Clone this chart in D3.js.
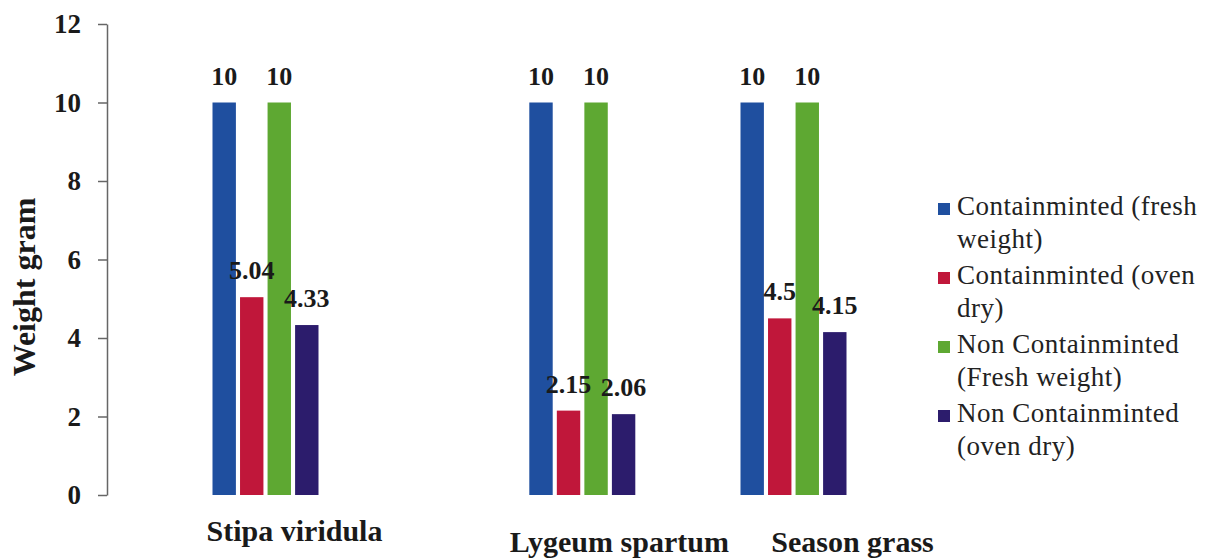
<!DOCTYPE html>
<html>
<head>
<meta charset="utf-8">
<script src="https://cdn.jsdelivr.net/npm/d3@7"></script>
<style>
  html, body { margin: 0; padding: 0; background: #ffffff; }
  svg { display: block; }
  svg text { font-family: "Liberation Serif", "Times New Roman", Times, serif; }
</style>
</head>
<body>
<svg id="chart" width="1214" height="560"></svg>
<script>
// ---- data ----
const categories = ["Stipa viridula", "Lygeum spartum", "Season grass"];
const seriesNames = [
  "Containminted (fresh weight)",
  "Containminted (oven dry)",
  "Non Containminted (Fresh weight)",
  "Non Containminted (oven dry)"
];
const legendLines = [
  ["Containminted (fresh", "weight)"],
  ["Containminted (oven", "dry)"],
  ["Non Containminted", "(Fresh weight)"],
  ["Non Containminted", "(oven dry)"]
];
const contFresh    = [10, 10, 10];
const contOven     = [5.04, 2.15, 4.5];
const nonContFresh = [10, 10, 10];
const nonContOven  = [4.33, 2.06, 4.15];
const yTicks = [0, 2, 4, 6, 8, 10, 12];
const yTitle = "Weight gram";

// ---- styles / layout ----
const colors = ["#1f4f9f", "#c0173a", "#5ea832", "#2c1c6c"];
const seriesValues = [contFresh, contOven, nonContFresh, nonContOven];
// slot layout of the category axis (empty slots give the uneven spacing)
const slots = ["Stipa viridula", "gap1", "gap2", "Lygeum spartum", "gap3", "Season grass"];
const labelNudge = [{dx: 29, y: 541}, {dx: 37, y: 552}, {dx: 59, y: 552}];

const svg = d3.select("#chart");

const y = d3.scaleLinear().domain([0, 12]).range([495, 24]);
const x = d3.scalePoint().domain(slots).range([265.5, 793.5]);
const inner = d3.scaleBand().domain(d3.range(4)).range([-53, 53]).paddingInner(0.15);

// y axis
const yAxis = svg.append("g")
  .attr("transform", "translate(107,0)")
  .call(d3.axisLeft(y).tickValues(yTicks).tickSize(9).tickSizeOuter(0).tickPadding(17));
yAxis.attr("font-family", null);
yAxis.select(".domain").attr("stroke", "#666").attr("stroke-width", 1.5);
yAxis.selectAll(".tick line").attr("stroke", "#666").attr("stroke-width", 1.5);
yAxis.selectAll(".tick text")
  .style("font-weight", "bold")
  .style("font-size", "27px")
  .attr("fill", "#1a1a1a")
  .attr("dy", "0.33em");

// y title
svg.append("text")
  .attr("transform", "translate(35,287) rotate(-90)")
  .attr("text-anchor", "middle")
  .style("font-weight", "bold")
  .style("font-size", "32px")
  .attr("fill", "#1a1a1a")
  .text(yTitle);

// bars
const barData = [];
categories.forEach((c, ci) => {
  seriesValues.forEach((vals, si) => {
    barData.push({cat: c, ci, si, v: vals[ci]});
  });
});

svg.append("g").selectAll("rect")
  .data(barData)
  .join("rect")
  .attr("x", d => x(d.cat) + inner(d.si))
  .attr("width", inner.bandwidth())
  .attr("y", d => y(d.v))
  .attr("height", d => y(0) - y(d.v))
  .attr("fill", d => colors[d.si]);

// value labels
svg.append("g").selectAll("text")
  .data(barData)
  .join("text")
  .attr("x", d => x(d.cat) + inner(d.si) + inner.bandwidth() / 2)
  .attr("y", d => y(d.v) - 18)
  .attr("text-anchor", "middle")
  .style("font-weight", "bold")
  .style("font-size", "26px")
  .attr("fill", "#1a1a1a")
  .text(d => d3.format("~g")(d.v));

// category labels
svg.append("g").selectAll("text")
  .data(categories)
  .join("text")
  .attr("x", (d, i) => x(d) + labelNudge[i].dx)
  .attr("y", (d, i) => labelNudge[i].y)
  .attr("text-anchor", "middle")
  .style("font-weight", "bold")
  .style("font-size", "30px")
  .attr("fill", "#1a1a1a")
  .text(d => d);

// legend
const legend = svg.append("g").attr("transform", "translate(938,215)");
const items = legend.selectAll("g")
  .data(seriesNames)
  .join("g")
  .attr("transform", (d, i) => `translate(0,${i * 69})`);
items.append("rect")
  .attr("x", 0).attr("y", -12)
  .attr("width", 12).attr("height", 12)
  .attr("fill", (d, i) => colors[i]);
items.each(function(d, i) {
  const t = d3.select(this).append("text")
    .style("font-size", "27px")
    .style("letter-spacing", "0.5px")
    .attr("fill", "#222");
  legendLines[i].forEach((line, li) => {
    t.append("tspan").attr("x", 19).attr("y", li * 33).text(line);
  });
});
</script>
</body>
</html>
